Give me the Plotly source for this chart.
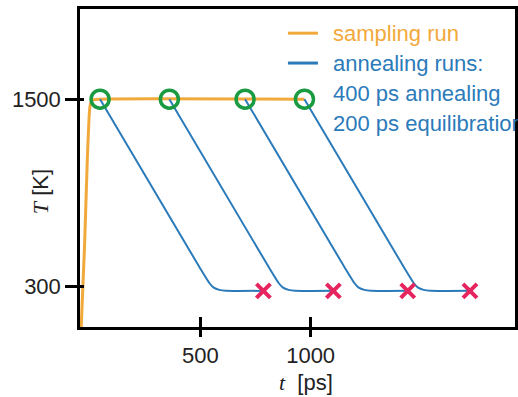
import plotly.graph_objects as go

# ---- data ----
sample_t = [-40, -24, -12, -4, 0, 6, 16, 40, 972]
sample_T = [20, 574, 1109, 1380, 1450, 1485, 1496, 1500, 1500]

run_start = [46, 360, 703, 972]          # ps, green circles
run_end = [786, 1103, 1440, 1722]        # ps, red crosses
start_T = [1500, 1500, 1500, 1500]
end_T = [272, 272, 272, 272]

# annealing profile: time after start (ps) and temperature (K)
prof_dt = [0, 440, 470, 495, 515, 540, 570]
prof_T = [1500, 448, 378, 322, 292, 278, 272]

x_ticks = [500, 1000]
y_ticks = [300, 1500]
x_range = [-45, 1926]
y_range = [40, 2078]

legend_labels = ["sampling run", "annealing runs:", "400 ps annealing", "200 ps equilibration"]

ORANGE = "#F2A93B"
BLUE = "#2B7BBA"
GREEN = "#1A9A41"
RED = "#E6245E"
FONT = "Liberation Sans"

fig = go.Figure()

fig.add_trace(go.Scatter(
    x=sample_t, y=sample_T, mode="lines",
    line=dict(color=ORANGE, width=3, shape="spline", smoothing=0.6),
    name=legend_labels[0],
))

for i, (t0, t1) in enumerate(zip(run_start, run_end)):
    xs = [t0 + d for d in prof_dt] + [t1]
    ys = list(prof_T) + [end_T[i]]
    fig.add_trace(go.Scatter(
        x=xs, y=ys, mode="lines",
        line=dict(color=BLUE, width=2, shape="spline", smoothing=0.6),
        name=legend_labels[1],
    ))

fig.add_trace(go.Scatter(
    x=run_start, y=start_T, mode="markers",
    marker=dict(symbol="circle-open", size=18, color=GREEN,
                line=dict(color=GREEN, width=3.5)),
))
fig.add_trace(go.Scatter(
    x=run_end, y=end_T, mode="markers",
    marker=dict(symbol="x-thin", size=14, color=RED,
                line=dict(color=RED, width=4)),
))

# dummy trace for the overlay axes (inner halves of the crossing ticks)
fig.add_trace(go.Scatter(x=[None], y=[None], xaxis="x2", yaxis="y2", hoverinfo="skip"))

# legend drawn as keys + coloured text (paper coordinates)
leg_text_x = 0.577
leg_y = [0.924, 0.830, 0.735, 0.641]
leg_colors = [ORANGE, BLUE, BLUE, BLUE]
annotations = []
for lbl, yy, col in zip(legend_labels, leg_y, leg_colors):
    annotations.append(dict(text=lbl, xref="paper", yref="paper", x=leg_text_x, y=yy,
                            xanchor="left", yanchor="middle", showarrow=False,
                            font=dict(size=22, family=FONT, color=col)))
shapes = []
for yy, col in zip(leg_y[:2], leg_colors[:2]):
    shapes.append(dict(type="line", xref="paper", yref="paper", x0=0.478, x1=0.547,
                       y0=yy, y1=yy, line=dict(color=col, width=3)))

annotations += [
    dict(text="<span style='font-family:Liberation Serif'><i>t</i></span>  [ps]",
         xref="paper", yref="paper", x=0.52, y=-0.175, showarrow=False,
         xanchor="center", yanchor="middle", font=dict(size=22, family=FONT, color="#222")),
    dict(text="<span style='font-family:Liberation Serif'><i>T</i></span> [K]",
         xref="paper", yref="paper", x=-0.092, y=0.427, showarrow=False, textangle=-90,
         xanchor="center", yanchor="middle", font=dict(size=22, family=FONT, color="#222")),
]

axis_common = dict(showgrid=False, zeroline=False)
fig.update_layout(
    width=518, height=397,
    margin=dict(l=80, r=3, t=9, b=70, autoexpand=False),
    paper_bgcolor="white", plot_bgcolor="white",
    font=dict(family=FONT, size=22, color="#222"),
    showlegend=False,
    xaxis=dict(range=x_range, tickvals=x_ticks, ticktext=[str(v) for v in x_ticks],
               ticks="outside", ticklen=7, tickwidth=2.5, tickcolor="black",
               showline=True, linewidth=2.5, linecolor="black", mirror=True,
               tickfont=dict(size=22, family=FONT, color="#222"), **axis_common),
    yaxis=dict(range=y_range, tickvals=y_ticks, ticktext=[str(v) for v in y_ticks],
               ticks="outside", ticklen=12, tickwidth=2.5, tickcolor="black",
               showline=True, linewidth=2.5, linecolor="black", mirror=True,
               tickfont=dict(size=22, family=FONT, color="#222"), **axis_common),
    xaxis2=dict(range=x_range, tickvals=x_ticks, overlaying="x", anchor="y2", side="bottom",
                ticks="inside", ticklen=10, tickwidth=2.5, tickcolor="black",
                showticklabels=False, showline=False, **axis_common),
    yaxis2=dict(range=y_range, tickvals=y_ticks, overlaying="y", anchor="x2", side="left",
                ticks="inside", ticklen=4, tickwidth=2.5, tickcolor="black",
                showticklabels=False, showline=False, **axis_common),
    annotations=annotations,
    shapes=shapes,
)

fig.write_html("out.html")
